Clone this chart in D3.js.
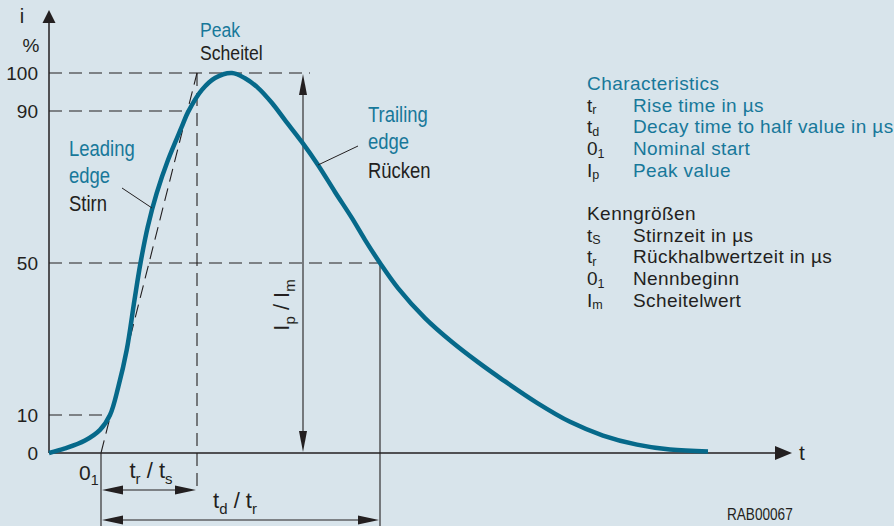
<!DOCTYPE html>
<html><head><meta charset="utf-8">
<script src="https://cdn.jsdelivr.net/npm/d3@7"></script>
<style>html,body{margin:0;padding:0;background:#d8e4eb;} svg{display:block;font-family:"Liberation Sans",Arial,Helvetica,sans-serif;}</style>
</head><body><svg id="c" width="894" height="526"></svg>
<script>
// ---- data (time in arbitrary units, current in % of peak) ----
const curveT = [0,1.6,3.6,5.1,6.1,6.93,7.77,8.55,9.15,9.87,10.77,11.9,13.27,13.9,15.27,16.6,18.3,19.6,20.9,22.3,23.6,25.3,26.9,28.6,30.3,31.6,33.1,34.9,37.6,40.3,42.9,45.4,48.8,52.1,55.4,58.8,62.1,65.9];
const curveI = [0,1.2,3.3,6.1,10,17.4,27.1,40.3,50,59.5,68.4,77.1,85.8,89.7,95.5,98.7,100,98.6,96.1,92.1,87.6,81.8,75.8,68.7,61.8,56.1,50,43.4,35.5,29.2,23.9,19.2,13.2,8.2,4.6,2.2,0.9,0.4];
const yTicks = [0,10,50,90,100];
const refLevels = [10,50,90,100];
const refEnds = [6.1,33.1,14.1,26.1];
const tNominalStart = 5.2, tRiseEnd = 14.8, tPeakArrow = 25.4, tHalf = 33.1;
const legendHeads = ["Characteristics","Kenngrößen"];
const legendEn = [["t","r","Rise time in µs"],["t","d","Decay time to half value in µs"],["0","1","Nominal start"],["I","p","Peak value"]];
const legendDe = [["t","S","Stirnzeit in µs"],["t","r","Rückhalbwertzeit in µs"],["0","1","Nennbeginn"],["I","m","Scheitelwert"]];

const INK="#231f20", TEAL="#17789a", CURVE="#06698a", BG="#d8e4eb";
const svg = d3.select("#c");
svg.append("rect").attr("width",894).attr("height",526).attr("fill",BG);

const x = d3.scaleLinear().domain([0,74]).range([49,789]);
const y = d3.scaleLinear().domain([0,100]).range([453,73]);

function arrowHead(tx,ty,dir,len,hw){
  let p;
  if(dir==="up") p=[[tx,ty],[tx-hw,ty+len],[tx+hw,ty+len]];
  if(dir==="down") p=[[tx,ty],[tx-hw,ty-len],[tx+hw,ty-len]];
  if(dir==="left") p=[[tx,ty],[tx+len,ty-hw],[tx+len,ty+hw]];
  if(dir==="right") p=[[tx,ty],[tx-len,ty-hw],[tx-len,ty+hw]];
  svg.append("path").attr("d","M"+p.map(q=>q.join(",")).join("L")+"Z").attr("fill",INK);
}
function rich(g, parts, size, color, anchor, shift, ssz){
  const sh = shift==null ? size*0.25 : shift;
  const t = g.append("text").attr("font-size",size).attr("fill",color).attr("text-anchor",anchor||"start");
  let shifted=false;
  parts.forEach(pt=>{
    const ts = t.append("tspan").text(pt[0]);
    if(pt[1]){ ts.attr("font-size",size*(ssz||0.68)).attr("dy", shifted?0:sh); shifted=true; }
    else if(shifted){ ts.attr("dy",-sh); shifted=false; }
  });
  return t;
}
function line(x1,y1,x2,y2,dash,w){
  svg.append("line").attr("x1",x1).attr("y1",y1).attr("x2",x2).attr("y2",y2)
    .attr("stroke",INK).attr("stroke-width",w||1.1).attr("stroke-dasharray",dash||null);
}
const DASH="13,7";

// reference dashed lines
refLevels.forEach((lv,i)=> line(x(0),y(lv),x(refEnds[i]),y(lv),DASH));
line(x(tRiseEnd),y(100),x(tRiseEnd),y(0)+39,DASH);
line(x(tNominalStart),y(0),x(tRiseEnd),y(100),DASH);

// solid helper verticals
line(x(tNominalStart),y(0),x(tNominalStart),526,null,1.1);
line(x(tHalf),y(50),x(tHalf),526,null,1.1);

// peak value arrow
line(x(tPeakArrow),y(100)+10,x(tPeakArrow),y(0)-10,null,1.1);
arrowHead(x(tPeakArrow),y(100)+1,"up",21,4);
arrowHead(x(tPeakArrow),y(0)-1,"down",21,4);

// dimension arrows
const dimY1=490, dimY2=520;
line(x(tNominalStart)+10,dimY1,x(tRiseEnd)-10,dimY1,null,1.1);
arrowHead(x(tNominalStart)+1,dimY1,"left",21,4.5);
arrowHead(x(tRiseEnd)-1,dimY1,"right",21,4.5);
line(x(tNominalStart)+10,dimY2,x(tHalf)-10,dimY2,null,1.1);
arrowHead(x(tNominalStart)+1,dimY2,"left",21,4.5);
arrowHead(x(tHalf)-1,dimY2,"right",21,4.5);

// axes
const yAxis = d3.axisLeft(y).tickValues(yTicks).tickSize(0).tickPadding(11);
const ga = svg.append("g").attr("transform","translate("+x(0)+",0)").call(yAxis);
ga.select(".domain").remove();
ga.selectAll("text").attr("font-size",19).attr("fill",INK).attr("font-family","Liberation Sans, Arial, sans-serif");
line(x(0),y(0),x(0),20,null,1.5);
arrowHead(x(0),10,"up",13,6.5);
line(x(0),y(0),780,y(0),null,1.5);
arrowHead(792,y(0),"right",17,7);

// curve
const pts = curveT.map((t,i)=>[t,curveI[i]]);
svg.append("path").datum(pts)
  .attr("d",d3.line().x(d=>x(d[0])).y(d=>y(d[1])).curve(d3.curveCatmullRom.alpha(0.5)))
  .attr("fill","none").attr("stroke",CURVE).attr("stroke-width",4.5);

// axis titles
svg.append("text").attr("x",22).attr("y",23).attr("text-anchor","middle").attr("font-size",20).attr("fill",INK).text("i");
svg.append("text").attr("x",31).attr("y",52).attr("text-anchor","middle").attr("font-size",19).attr("fill",INK).text("%");
svg.append("text").attr("x",799).attr("y",460).attr("font-size",21).attr("fill",INK).text("t");

// condensed annotation labels
function cond(xp,yp,txt,color,size,sx){
  svg.append("g").attr("transform","translate("+xp+","+yp+") scale("+(sx||0.84)+",1)")
    .append("text").attr("font-size",size||22).attr("fill",color).text(txt);
}
cond(200,37,"Peak",TEAL,21);
cond(200,60,"Scheitel",INK,21);
cond(69,156,"Leading",TEAL);
cond(69,183,"edge",TEAL);
cond(69,211,"Stirn",INK);
cond(368,122,"Trailing",TEAL);
cond(368,149,"edge",TEAL);
cond(368,178,"Rücken",INK);
cond(727,520,"RAB00067",INK,17,0.8);
line(122,188,152,208,null,1);
line(358,146,318,165,null,1);

// bottom labels
rich(svg.append("g").attr("transform","translate(79,480)"),[["0"],["1",1]],21,INK);
rich(svg.append("g").attr("transform","translate(151,478)"),[["t"],["r",1],[" / t"],["s",1]],22,INK,"middle");
rich(svg.append("g").attr("transform","translate(235,508)"),[["t"],["d",1],[" / t"],["r",1]],22,INK,"middle");
rich(svg.append("g").attr("transform","translate(289,305) rotate(-90)"),[["I"],["p",1],[" / I"],["m",1]],22,INK,"middle");

// legend
const LX1=587, LX2=633, LY0=90, LDY=21.67, LFS=19;
function legendBlock(head, rows, y0, headColor, descColor){
  svg.append("text").attr("x",LX1).attr("y",y0).attr("font-size",LFS).attr("letter-spacing",0.45).attr("fill",headColor).text(head);
  rows.forEach((r,i)=>{
    const yy = y0+(i+1)*LDY;
    rich(svg.append("g").attr("transform","translate("+LX1+","+yy+")"),[[r[0]],[r[1],1]],LFS,INK,"start",2.5,0.66);
    svg.append("text").attr("x",LX2).attr("y",yy).attr("font-size",LFS).attr("letter-spacing",0.4).attr("fill",descColor).text(r[2]);
  });
}
legendBlock(legendHeads[0],legendEn,LY0,TEAL,TEAL);
legendBlock(legendHeads[1],legendDe,LY0+6*LDY,INK,INK);
</script></body></html>
